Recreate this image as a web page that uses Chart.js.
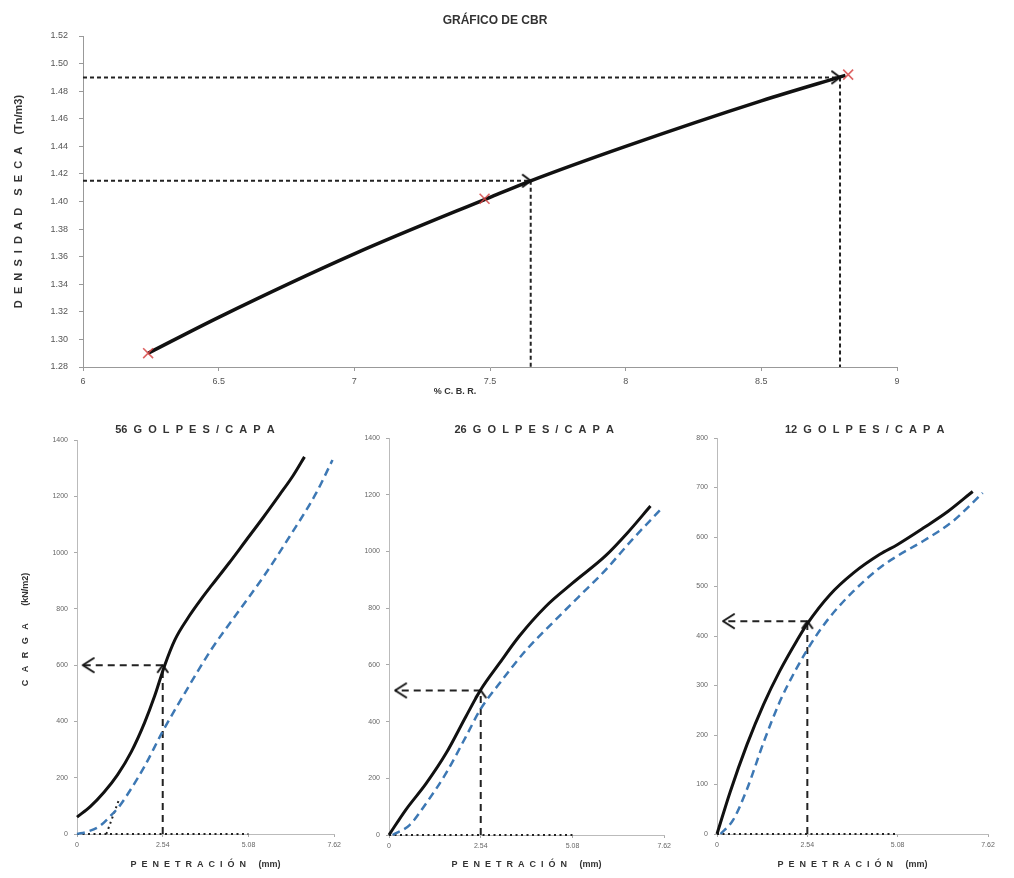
<!DOCTYPE html>
<html><head><meta charset="utf-8">
<script src="https://cdn.jsdelivr.net/npm/chart.js@4.4.1/dist/chart.umd.min.js"></script>
<style>
html,body{margin:0;padding:0;background:#fff;}
body{width:1014px;height:878px;position:relative;overflow:hidden;}
.box{position:absolute;}
</style></head><body>
<div class="box" style="left:0;top:0;width:1014px;height:410px"><canvas id="c0"></canvas></div>
<div class="box" style="left:0;top:410px;width:345px;height:468px"><canvas id="c1"></canvas></div>
<div class="box" style="left:345px;top:410px;width:330px;height:468px"><canvas id="c2"></canvas></div>
<div class="box" style="left:675px;top:410px;width:339px;height:468px"><canvas id="c3"></canvas></div>
<script>
// ---------- DATA ----------
// Top chart: dry density vs CBR
const cbrCurveX = [6.24, 6.5, 7.0, 7.5, 7.65, 8.0, 8.5, 8.81];
const cbrCurveY = [1.290, 1.316, 1.362, 1.403, 1.415, 1.440, 1.473, 1.4915];
const cbrTestX = [6.24, 7.48, 8.82];
const cbrTestY = [1.290, 1.402, 1.492];
const cbrReadX = [7.65, 8.79];
const cbrReadY = [1.415, 1.49];
const cbrXTicks = [6, 6.5, 7, 7.5, 8, 8.5, 9];
const cbrXLabels = ['6', '6.5', '7', '7.5', '8', '8.5', '9'];
const cbrYTicks = [1.28, 1.30, 1.32, 1.34, 1.36, 1.38, 1.40, 1.42, 1.44, 1.46, 1.48, 1.50, 1.52];
const cbrYLabels = ['1.28', '1.30', '1.32', '1.34', '1.36', '1.38', '1.40', '1.42', '1.44', '1.46', '1.48', '1.50', '1.52'];

// Bottom charts: load vs penetration
const penTicks = [0, 2.54, 5.08, 7.62];
const penLabels = ['0', '2.54', '5.08', '7.62'];
const load1400Ticks = [0, 200, 400, 600, 800, 1000, 1200, 1400];
const load800Ticks = [0, 100, 200, 300, 400, 500, 600, 700, 800];

const g56X = [0, 0.4, 0.8, 1.2, 1.6, 2.0, 2.3, 2.6, 2.9, 3.3, 3.7, 4.0, 4.5, 5.0, 5.5, 6.0, 6.4, 6.74];
const g56Y = [60, 98, 148, 210, 290, 395, 490, 600, 690, 770, 838, 885, 962, 1042, 1122, 1205, 1273, 1340];
const g56CorrX = [0, 0.3, 0.66, 1.0, 1.25, 1.6, 2.0, 2.54, 3.19, 3.97, 4.75, 5.53, 6.3, 7.08, 7.57];
const g56CorrY = [0, 8, 27, 65, 98, 160, 240, 365, 500, 654, 785, 915, 1057, 1210, 1329];
const g56TanX = [0.87, 1.25];
const g56TanY = [0, 124];
const g56Load = 600;

const g26X = [0, 0.46, 1.03, 1.58, 2.13, 2.54, 3.05, 3.6, 4.34, 5.08, 6.0, 6.6, 7.24];
const g26Y = [0, 88, 182, 288, 418, 512, 604, 700, 806, 888, 985, 1065, 1160];
const g26CorrX = [0.1, 0.57, 1.03, 1.58, 2.13, 2.54, 3.05, 3.79, 4.52, 5.26, 6.0, 6.73, 7.56];
const g26CorrY = [0, 35, 112, 218, 347, 445, 533, 651, 747, 841, 935, 1041, 1153];
const g26Load = 510;

const g12X = [0, 0.37, 0.84, 1.31, 1.77, 2.24, 2.54, 3.17, 3.83, 4.58, 5.08, 5.8, 6.5, 7.19];
const g12Y = [0, 85, 180, 262, 330, 390, 425, 483, 527, 565, 585, 618, 652, 692];
const g12CorrX = [0.1, 0.45, 0.84, 1.31, 1.77, 2.24, 2.71, 3.17, 3.83, 4.58, 5.08, 5.8, 6.6, 7.47];
const g12CorrY = [0, 28, 90, 185, 268, 335, 392, 438, 490, 538, 562, 592, 630, 689];
const g12Load = 430;

const readPen = 2.54;       // penetration used for reading
const baseEnd = 5.08;       // end of dotted base line
const arrowTip = 0.17;      // where reading arrows stop near the axis

// ---------- HELPERS ----------
const FAM = "'Liberation Sans', Arial, Helvetica, sans-serif";
Chart.defaults.font.family = FAM;
Chart.defaults.animation = false;

function zip(xs, ys) { return xs.map((x, i) => ({x: x, y: ys[i]})); }

function chevron(dir, len, spread, lw) {
  const s = Math.ceil(Math.max(len, spread) + lw) * 2 + 2;
  const c = document.createElement('canvas');
  c.width = s; c.height = s;
  const ctx = c.getContext('2d');
  const m = s / 2;
  const back = {left: [1, 0], right: [-1, 0], up: [0, 1], down: [0, -1]}[dir];
  const px = -back[1], py = back[0];
  ctx.strokeStyle = '#111';
  ctx.lineWidth = lw;
  ctx.lineCap = 'round';
  ctx.lineJoin = 'round';
  ctx.beginPath();
  ctx.moveTo(m + back[0] * len + px * spread, m + back[1] * len + py * spread);
  ctx.lineTo(m, m);
  ctx.lineTo(m + back[0] * len - px * spread, m + back[1] * len - py * spread);
  ctx.stroke();
  return c;
}

function lineDs(data, color, width, dash, extra) {
  return Object.assign({
    data: data, showLine: true, borderColor: color, backgroundColor: color,
    borderWidth: width, borderDash: dash || [], pointRadius: 0, pointHoverRadius: 0,
    clip: false, fill: false
  }, extra || {});
}

function pointDs(data, style) {
  return {data: data, showLine: false, pointStyle: style, pointRadius: 6, pointHoverRadius: 6,
          borderColor: '#111', backgroundColor: '#111', clip: false};
}

// ---------- TOP CHART ----------
new Chart(document.getElementById('c0'), {
  type: 'scatter',
  data: {
    datasets: [
      pointDs([{x: cbrReadX[0], y: cbrReadY[0]}, {x: cbrReadX[1], y: cbrReadY[1]}], chevron('right', 8, 6, 2)),
      {data: zip(cbrTestX, cbrTestY), showLine: false, pointStyle: 'crossRot', pointRadius: 7,
       pointHoverRadius: 7, borderColor: 'rgba(215,70,70,0.85)', backgroundColor: 'rgba(215,70,70,0.85)',
       pointBorderWidth: 1.6, clip: false},
      lineDs(zip(cbrCurveX, cbrCurveY), '#111', 3.5, [], {cubicInterpolationMode: 'monotone'}),
      lineDs([{x: cbrXTicks[0], y: cbrReadY[0]}, {x: cbrReadX[0], y: cbrReadY[0]}], '#222', 2, [4, 3]),
      lineDs([{x: cbrReadX[0], y: cbrReadY[0]}, {x: cbrReadX[0], y: cbrYTicks[0]}], '#222', 2, [4, 3]),
      lineDs([{x: cbrXTicks[0], y: cbrReadY[1]}, {x: cbrReadX[1], y: cbrReadY[1]}], '#222', 2, [4, 3]),
      lineDs([{x: cbrReadX[1], y: cbrReadY[1]}, {x: cbrReadX[1], y: cbrYTicks[0]}], '#222', 2, [4, 3])
    ]
  },
  options: {
    responsive: true, maintainAspectRatio: false,
    layout: {padding: {left: 0, right: 117, top: 0, bottom: 0}},
    plugins: {
      legend: {display: false}, tooltip: {enabled: false},
      title: {display: true, text: '   GRÁFICO DE CBR', fullSize: false, color: '#333',
              font: {size: 12, weight: 'bold'}, padding: {top: 13, bottom: 8.6}}
    },
    scales: {
      x: {
        type: 'linear', min: 6, max: 9,
        afterBuildTicks: s => { s.ticks = cbrXTicks.map(v => ({value: v})); },
        afterFit: s => { s.height = 43; },
        ticks: {autoSkip: false, maxRotation: 0, padding: 5, color: '#555', font: {size: 9},
                callback: (v, i) => cbrXLabels[i]},
        grid: {drawOnChartArea: false, tickLength: 4, color: '#999'},
        border: {display: true, color: '#999', width: 1},
        title: {display: true, text: '% C. B. R.                            ', color: '#333',
                font: {size: 9, weight: 'bold'}, padding: {top: 0, bottom: 12.6}}
      },
      y: {
        type: 'linear', min: 1.28, max: 1.52,
        afterBuildTicks: s => { s.ticks = cbrYTicks.map(v => ({value: v})); },
        afterFit: s => { s.width = 83; },
        ticks: {autoSkip: false, padding: 11, color: '#555', font: {size: 9},
                callback: (v, i) => cbrYLabels[i]},
        grid: {drawOnChartArea: false, tickLength: 4, color: '#999'},
        border: {display: true, color: '#999', width: 1},
        title: {display: true, text: 'D  E  N  S  I  D  A  D    S  E  C  A    (Tn/m3)', color: '#333',
                font: {size: 11, weight: 'bold'}, padding: {top: 12, bottom: 0}}
      }
    }
  }
});

// ---------- BOTTOM CHARTS ----------
function penChart(id, o) {
  const datasets = [
    pointDs([{x: arrowTip, y: o.load}], chevron('left', 11, 7, 2)),
    pointDs([{x: readPen, y: o.load}], chevron('up', 7, 5, 2)),
    lineDs(zip(o.curveX, o.curveY), '#111', 3, [], {cubicInterpolationMode: 'monotone'}),
    lineDs(zip(o.corrX, o.corrY), '#3d78b4', 2.5, [8, 5], {cubicInterpolationMode: 'monotone'}),
    lineDs([{x: readPen, y: o.load}, {x: arrowTip, y: o.load}], '#222', 2, [7, 5]),
    lineDs([{x: readPen, y: 0}, {x: readPen, y: o.load}], '#222', 2, [7, 5]),
    lineDs([{x: penTicks[0], y: 0}, {x: baseEnd, y: 0}], '#222', 2, [2, 3.5])
  ];
  if (o.tanX) datasets.push(lineDs(zip(o.tanX, o.tanY), '#222', 2, [2, 3.5]));
  return new Chart(document.getElementById(id), {
    type: 'scatter',
    data: {datasets: datasets},
    options: {
      responsive: true, maintainAspectRatio: false,
      layout: {padding: {left: 0, right: o.padRight, top: 0, bottom: 0}},
      plugins: {
        legend: {display: false}, tooltip: {enabled: false},
        title: {display: true, text: o.title, fullSize: false, color: '#333',
                font: {size: 11, weight: 'bold'}, padding: {top: 13.4, bottom: o.titleBottom}}
      },
      scales: {
        x: {
          type: 'linear', min: 0, max: 7.62,
          afterBuildTicks: s => { s.ticks = penTicks.map(v => ({value: v})); },
          afterFit: s => { s.height = o.xHeight; },
          ticks: {autoSkip: false, maxRotation: 0, padding: 4, color: '#666', font: {size: 7},
                  callback: (v, i) => penLabels[i]},
          grid: {drawOnChartArea: false, tickLength: 3, color: '#aaa'},
          border: {display: true, color: '#bbb', width: 1},
          title: {display: true, text: 'P  E  N  E  T  R  A  C  I  Ó  N     (mm)', color: '#333',
                  font: {size: 9, weight: 'bold'}, padding: {top: 0, bottom: 7.6}}
        },
        y: {
          type: 'linear', min: 0, max: o.yTicks[o.yTicks.length - 1],
          afterBuildTicks: s => { s.ticks = o.yTicks.map(v => ({value: v})); },
          afterFit: s => { s.width = o.yWidth; },
          ticks: {autoSkip: false, padding: 6, color: '#666', font: {size: 7},
                  callback: (v, i) => String(o.yTicks[i])},
          grid: {drawOnChartArea: false, tickLength: 3, color: '#aaa'},
          border: {display: true, color: '#bbb', width: 1},
          title: {display: !!o.yTitle, text: o.yTitle || '', color: '#333',
                  font: {size: 9, weight: 'bold'}, padding: {top: 20.6, bottom: 0}}
        }
      }
    }
  });
}

penChart('c1', {title: '56  G  O  L  P  E  S  /  C  A  P  A       ', curveX: g56X, curveY: g56Y,
  corrX: g56CorrX, corrY: g56CorrY, tanX: g56TanX, tanY: g56TanY, load: g56Load,
  yTicks: load1400Ticks, yTitle: '      C   A   R   G   A       (kN/m2)', yWidth: 77, xHeight: 44,
  padRight: 6, titleBottom: 3.4});
penChart('c2', {title: '     26  G  O  L  P  E  S  /  C  A  P  A', curveX: g26X, curveY: g26Y,
  corrX: g26CorrX, corrY: g26CorrY, load: g26Load,
  yTicks: load1400Ticks, yWidth: 44, xHeight: 43, padRight: 10, titleBottom: 1.4});
penChart('c3', {title: '        12  G  O  L  P  E  S  /  C  A  P  A', curveX: g12X, curveY: g12Y,
  corrX: g12CorrX, corrY: g12CorrY, load: g12Load,
  yTicks: load800Ticks, yWidth: 42, xHeight: 44, padRight: 26, titleBottom: 1.4});
</script>
</body></html>
